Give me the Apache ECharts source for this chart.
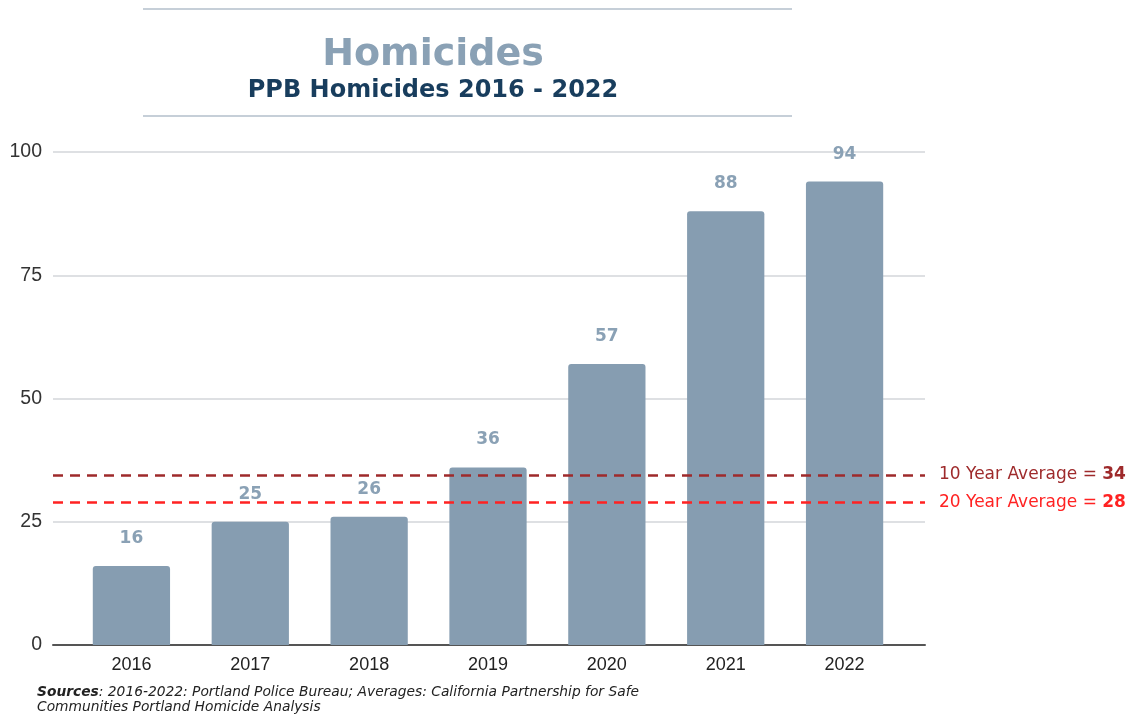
<!DOCTYPE html>
<html>
<head>
<meta charset="utf-8">
<script src="https://cdn.jsdelivr.net/npm/echarts@6/dist/echarts.min.js"></script>
<style>html,body{margin:0;padding:0;background:#fff}#c{width:1138px;height:714px}</style>
</head>
<body>
<div id="c"></div>
<script>
const categories = ['2016', '2017', '2018', '2019', '2020', '2021', '2022'];
const homicides = [16, 25, 26, 36, 57, 88, 94];
const yMin = 0, yMax = 100, yInterval = 25;
const averageNames = ['10 Year Average', '20 Year Average'];
const averageLabelValues = [34, 28];
const averageLineValues = [34.5, 28.9];
const averageColors = ['#9e2a2b', '#ff2222'];
const titleText = 'Homicides';
const subtitleText = 'PPB Homicides 2016 - 2022';
const sourceBold = 'Sources';
const sourceLine1 = ': 2016-2022: Portland Police Bureau; Averages: California Partnership for Safe';
const sourceLine2 = 'Communities Portland Homicide Analysis';

const chart = echarts.init(document.getElementById('c'), null, {renderer: 'canvas'});
const barColor = '#869db1';
const labelColor = '#8aa1b5';

const avgMarkData = averageLineValues.map((v, i) => ({
  yAxis: v,
  lineStyle: {color: averageColors[i], type: [10, 7], width: 2.5},
  label: {
    show: true,
    position: 'end',
    distance: 14,
    formatter: '{n|' + averageNames[i] + ' = }{v|' + averageLabelValues[i] + '}',
    rich: {
      n: {color: averageColors[i], fontFamily: 'DejaVu Sans', fontSize: 17},
      v: {color: averageColors[i], fontFamily: 'DejaVu Sans', fontSize: 17, fontWeight: 'bold'}
    }
  }
}));

chart.setOption({
  animation: false,
  graphic: [
    {type: 'line', shape: {x1: 143, y1: 9, x2: 792, y2: 9}, style: {stroke: '#c6cfd8', lineWidth: 2}},
    {type: 'line', shape: {x1: 143, y1: 116, x2: 792, y2: 116}, style: {stroke: '#c6cfd8', lineWidth: 2}},
    {type: 'text', x: 433, y: 55, style: {text: titleText, font: 'bold 38px "DejaVu Sans"', fill: '#8aa1b5', align: 'center', verticalAlign: 'middle'}},
    {type: 'text', x: 433, y: 91, style: {text: subtitleText, font: 'bold 24px "DejaVu Sans"', fill: '#183d5d', align: 'center', verticalAlign: 'middle'}},
    {type: 'text', x: 37, y: 685, style: {
      text: '{b|' + sourceBold + '}{i|' + sourceLine1 + '}\n{i|' + sourceLine2 + '}',
      rich: {
        b: {fontFamily: 'DejaVu Sans', fontSize: 13.8, fontStyle: 'italic', fontWeight: 'bold', fill: '#222', lineHeight: 15},
        i: {fontFamily: 'DejaVu Sans', fontSize: 13.8, fontStyle: 'italic', fill: '#222', lineHeight: 15}
      }
    }}
  ],
  grid: [
    {left: 53, right: 213, top: 152, bottom: 69},
    {left: 72, right: 234, top: 152, bottom: 69}
  ],
  xAxis: [
    {gridIndex: 0, type: 'value', min: 0, max: 1, axisLine: {show: true, onZero: false, lineStyle: {color: '#555', width: 2}},
     axisTick: {show: false}, axisLabel: {show: false}, splitLine: {show: false}},
    {gridIndex: 1, type: 'category', data: categories, axisLine: {show: false}, axisTick: {show: false},
     axisLabel: {color: '#222', fontFamily: 'Liberation Sans', fontSize: 18, margin: 11}}
  ],
  yAxis: [
    {gridIndex: 0, type: 'value', min: yMin, max: yMax, interval: yInterval,
     axisLine: {show: false}, axisTick: {show: false},
     axisLabel: {color: '#333', fontFamily: 'Liberation Sans', fontSize: 19.5, margin: 11},
     splitLine: {lineStyle: {color: '#d3d6da', width: 1.5}}},
    {gridIndex: 1, type: 'value', min: yMin, max: yMax, interval: yInterval, show: false, splitLine: {show: false}}
  ],
  series: [
    {
      type: 'bar', xAxisIndex: 1, yAxisIndex: 1, data: homicides, barWidth: '65%',
      itemStyle: {color: barColor, borderRadius: [3, 3, 0, 0]},
      label: {show: true, position: 'top', distance: 19, color: labelColor, fontFamily: 'DejaVu Sans', fontWeight: 'bold', fontSize: 17},
      z: 2
    },
    {
      type: 'line', xAxisIndex: 0, yAxisIndex: 0, data: [], symbol: 'none', z: 5,
      markLine: {silent: true, symbol: ['none', 'none'], data: avgMarkData}
    }
  ]
});
</script>
</body>
</html>
